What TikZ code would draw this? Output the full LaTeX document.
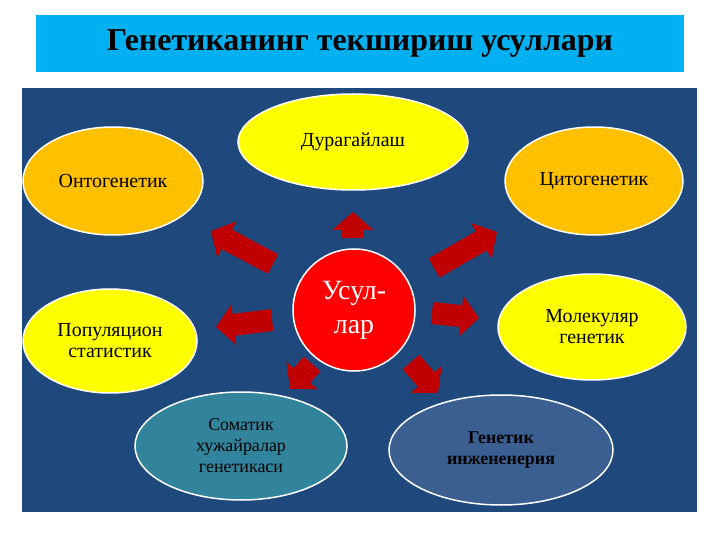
\documentclass[tikz,border=0pt]{standalone}
\usepackage{fontspec}
\setmainfont{Liberation Serif}
\usetikzlibrary{shapes.geometric,arrows.meta}
\definecolor{titlecyan}{HTML}{00B0F0}
\definecolor{boardblue}{HTML}{1F497D}
\definecolor{methodyellow}{HTML}{FFFF00}
\definecolor{methodorange}{HTML}{FFC000}
\definecolor{methodteal}{HTML}{31849B}
\definecolor{methodblue}{HTML}{3A5F90}
\definecolor{arrowred}{HTML}{C00000}
\begin{document}
\begin{tikzpicture}[x=1bp,y=-1bp,
        method/.style={draw=white,line width=1.5bp,ellipse,align=center,inner sep=0pt,font=\fontsize{20}{21}\selectfont},
        smallmethod/.style={method,font=\fontsize{18}{21}\selectfont},
        bigarrow/.style={draw=arrowred,line width=22bp,-{Triangle[length=18bp,width=40bp]}}]
        %% Page
        \useasboundingbox (0,0) rectangle (720,540);
        \fill[white] (0,0) rectangle (720,540);
        %% Title
        \fill[titlecyan] (36,15) rectangle (684,72);
        \node[font=\bfseries\fontsize{32}{34}\selectfont] (title) at (360,44) {Генетиканинг текшириш усуллари};
        %% Board
        \fill[boardblue] (22,88) rectangle (697,512);
        %% Methods
        \node[method,fill=methodyellow,minimum width=230bp,minimum height=96bp] (dur) at (353,142) {Дурагайлаш};
        \node[method,fill=methodorange,minimum width=180bp,minimum height=108bp] (onto) at (113,181) {Онтогенетик};
        \node[method,fill=methodorange,minimum width=178bp,minimum height=108bp] (cito) at (594,181) {Цитогенетик};
        \node[method,fill=methodyellow,minimum width=174bp,minimum height=104bp] (pop) at (110,341) {Популяцион\\статистик};
        \node[method,fill=methodyellow,minimum width=188bp,minimum height=106bp] (mol) at (592,327) {Молекуляр\\генетик};
        \node[smallmethod,fill=methodteal,minimum width=212bp,minimum height=108bp] (som) at (241,446) {Соматик\\хужайралар\\генетикаси};
        \node[smallmethod,fill=methodblue,minimum width=224bp,minimum height=110bp,font=\bfseries\fontsize{18}{21}\selectfont] (gen) at (501,450) {Генетик\\инжененерия};
        %% Centre
        \node[circle,draw=white,line width=1.5bp,fill=red,minimum size=122bp,text=white,align=center,font=\fontsize{28}{34}\selectfont] (usul) at (354,310) {Усул-\\лар};
        %% Arrows
        \foreach \tail/\tip in {{(353,238)}/{(353,212)},{(273,264)}/{(211,231)},{(434,268)}/{(497,232)},
                {(272,320)}/{(216,327)},{(432,313)}/{(479,318)},{(312,364)}/{(290,389)},{(411,362)}/{(438,393)}}
            \draw[bigarrow] \tail -- \tip;
    \end{tikzpicture}
\end{document}
